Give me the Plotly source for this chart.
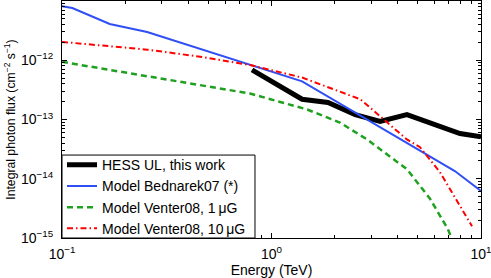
import plotly.graph_objects as go

# HESS upper limits
hess_E = [0.807, 1.40, 1.86, 2.51, 3.30, 4.43, 7.94, 10.0]
hess_F = [6.9e-13, 2.2e-13, 1.94e-13, 1.21e-13, 9.3e-14, 1.21e-13, 5.8e-14, 5.1e-14]

# Model Bednarek07
bed_E = [0.1, 0.112, 0.169, 0.255, 1.40, 7.5, 10.0]
bed_F = [8.2e-12, 7.6e-12, 4.1e-12, 3.0e-12, 4.4e-13, 1.35e-14, 6.2e-15]

# Model Venter08, 1 uG
v1_E = [0.1, 0.263, 0.79, 1.476, 2.12, 2.86, 3.40, 4.43, 5.71, 6.95, 7.19]
v1_F = [9.4e-13, 5.3e-13, 2.74e-13, 1.48e-13, 8.9e-14, 4.6e-14, 2.9e-14, 1.45e-14, 4.6e-15, 1.41e-15, 1.05e-15]

# Model Venter08, 10 uG
v10_E = [0.1, 0.169, 0.255, 0.456, 0.79, 1.4, 2.66, 4.43, 5.12, 6.37, 9.06]
v10_F = [2.04e-12, 1.70e-12, 1.51e-12, 1.15e-12, 8.3e-13, 5.1e-13, 2.19e-13, 4.6e-14, 3.4e-14, 1.29e-14, 1.58e-15]

x_ticks = [0.1, 1, 10]
x_ticktext = ["10<sup>−1</sup>", "10<sup>0</sup>", "10<sup>1</sup>"]
y_ticks = [1e-15, 1e-14, 1e-13, 1e-12]
y_ticktext = ["10<sup>−15</sup>", "10<sup>−14</sup>", "10<sup>−13</sup>", "10<sup>−12</sup>"]

FONT = "Liberation Sans, Arial, sans-serif"

fig = go.Figure()
fig.add_trace(go.Scatter(x=hess_E, y=hess_F, mode="lines", name="HESS UL, this work",
                         line=dict(color="black", width=5)))
fig.add_trace(go.Scatter(x=bed_E, y=bed_F, mode="lines", name="Model Bednarek07 (*)",
                         line=dict(color="#2f4ff5", width=2)))
fig.add_trace(go.Scatter(x=v1_E, y=v1_F, mode="lines", name="Model Venter08, 1\u2009μG",
                         line=dict(color="#1fa01f", width=2.5, dash="6px,4px")))
fig.add_trace(go.Scatter(x=v10_E, y=v10_F, mode="lines", name="Model Venter08, 10\u2009μG",
                         line=dict(color="#ff0000", width=2, dash="6px,3px,1.5px,3px")))

minor_x = [k * 10.0 ** e for e in (-1, 0) for k in range(2, 10)]
minor_y = [k * 10.0 ** e for e in (-15, -14, -13, -12) for k in range(2, 10)]

axis_common = dict(showline=True, linecolor="black", linewidth=1, mirror="allticks",
                   ticks="inside", ticklen=5, tickcolor="black", showgrid=False,
                   zeroline=False, automargin=False, ticklabeloverflow="allow",
                   tickfont=dict(size=14, color="black", family=FONT))

fig.update_xaxes(type="log", range=[-1, 1], tickmode="array", tickvals=x_ticks,
                 ticktext=x_ticktext, ticklabelstandoff=3,
                 title=dict(text="Energy (TeV)", font=dict(size=14, color="black", family=FONT),
                            standoff=0),
                 minor=dict(ticks="inside", ticklen=3, tickcolor="black", tickvals=minor_x,
                            showgrid=False),
                 **axis_common)
fig.update_yaxes(type="log", range=[-15, -11], tickmode="array", tickvals=y_ticks,
                 ticktext=y_ticktext, ticklabelstandoff=5,
                 title=dict(text="Integral photon flux (cm<sup>−2</sup> s<sup>−1</sup>)",
                            font=dict(size=12.2, color="black", family=FONT), standoff=2),
                 minor=dict(ticks="inside", ticklen=3, tickcolor="black", tickvals=minor_y,
                            showgrid=False),
                 **axis_common)

# legend frame (white box behind the legend entries)
fig.add_shape(type="rect", xref="paper", yref="paper", x0=0, x1=0.4606, y0=0, y1=0.350,
              line=dict(color="black", width=1), fillcolor="white", layer="above")

fig.update_layout(
    width=491, height=278,
    margin=dict(l=62, r=10, t=1, b=40),
    paper_bgcolor="white", plot_bgcolor="white",
    font=dict(family=FONT, color="black"),
    showlegend=True,
    legend=dict(x=0, y=-0.026, xanchor="left", yanchor="bottom", bgcolor="rgba(0,0,0,0)",
                borderwidth=0,
                font=dict(size=14, color="black", family=FONT),
                itemwidth=30, tracegroupgap=0),
)

fig.write_html("out.html", post_script="document.body.style.margin='0';",
               config={"displayModeBar": False})
